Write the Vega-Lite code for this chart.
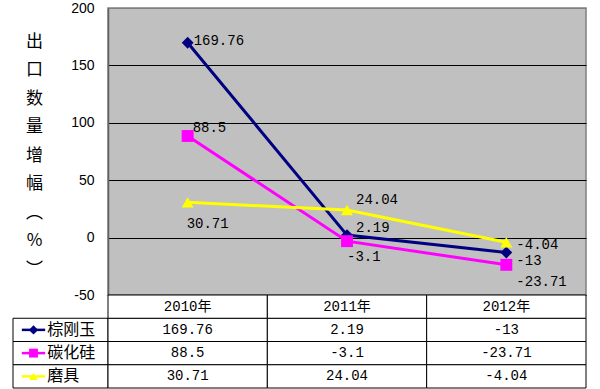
{
  "$schema": "https://vega.github.io/schema/vega-lite/v6.json",
  "padding": {"left": 12, "top": 0, "right": 0, "bottom": 0},
  "background": "white",
  "datasets": {
    "d": [
      {"series": "棕刚玉", "year": "2010年", "value": 169.76},
      {"series": "棕刚玉", "year": "2011年", "value": 2.19},
      {"series": "棕刚玉", "year": "2012年", "value": -13},
      {"series": "碳化硅", "year": "2010年", "value": 88.5},
      {"series": "碳化硅", "year": "2011年", "value": -3.1},
      {"series": "碳化硅", "year": "2012年", "value": -23.71},
      {"series": "磨具", "year": "2010年", "value": 30.71},
      {"series": "磨具", "year": "2011年", "value": 24.04},
      {"series": "磨具", "year": "2012年", "value": -4.04}
    ]
  },
  "config": {"view": {"stroke": null}},
  "columns": 2,
  "spacing": 0,
  "bounds": "flush",
  "resolve": {"scale": {"x": "independent", "y": "independent", "color": "independent", "shape": "independent", "size": "independent"}},
  "concat": [
    {
      "width": 95,
      "height": 287,
      "data": {"values": [{"a": 1}]},
      "mark": {"type": "point", "opacity": 0},
      "encoding": {}
    },
    {
      "width": 478,
      "height": 287,
      "view": {"fill": "#C0C0C0", "stroke": "#808080", "strokeWidth": 1.5},
      "data": {"name": "d"},
      "encoding": {
        "x": {"field": "year", "type": "nominal", "scale": {"type": "point", "domain": ["2010年", "2011年", "2012年"], "padding": 0.5}, "axis": null},
        "y": {
          "field": "value", "type": "quantitative",
          "scale": {"domain": [-50, 200], "nice": false, "zero": false},
          "axis": {
            "values": [-50, 0, 50, 100, 150, 200],
            "labelExpr": "'' + datum.value",
            "grid": true,
            "gridColor": {"condition": {"test": "datum.value == 200", "value": "#808080"}, "value": "#000000"},
            "gridOpacity": 1,
            "gridWidth": 1,
            "domainColor": "#606060",
            "domainWidth": 1.5,
            "ticks": false,
            "tickSize": 0,
            "labelPadding": 14,
            "labelFont": "Liberation Sans",
            "labelFontSize": 14,
            "labelColor": "#000000",
            "title": ["出", "口", "数", "量", "增", "幅", "︵", "%", "︶"],
            "titleAngle": 0,
            "titleFont": "Noto Sans CJK SC",
            "titleFontSize": 17,
            "titleFontWeight": "normal",
            "titleLineHeight": 28.5,
            "titleX": -74,
            "titleY": 25,
            "titleAlign": "center",
            "titleBaseline": "top",
            "titleColor": "#000000"
          }
        },
        "color": {"field": "series", "type": "nominal", "scale": {"domain": ["棕刚玉", "碳化硅", "磨具"], "range": ["#000080", "#FF00FF", "#FFFF00"]}, "legend": null}
      },
      "layer": [
        {"mark": {"type": "line", "strokeWidth": 3}},
        {
          "mark": {"type": "point", "filled": true, "opacity": 1},
          "encoding": {
            "shape": {"field": "series", "type": "nominal", "scale": {"domain": ["棕刚玉", "碳化硅", "磨具"], "range": ["diamond", "square", "triangle-up"]}, "legend": null},
            "size": {"field": "series", "type": "ordinal", "scale": {"domain": ["棕刚玉", "碳化硅", "磨具"], "range": [140, 144, 120]}, "legend": null}
          }
        },
        {"transform": [{"filter": "datum.series == '棕刚玉' && datum.year == '2010年'"}], "mark": {"type": "text", "align": "left", "dx": 6, "dy": -2, "font": "Liberation Mono", "fontSize": 14}, "encoding": {"text": {"field": "value", "type": "nominal"}, "color": {"value": "#000000"}}},
        {"transform": [{"filter": "datum.series == '碳化硅' && datum.year == '2010年'"}], "mark": {"type": "text", "align": "left", "dx": 5, "dy": -8, "font": "Liberation Mono", "fontSize": 14}, "encoding": {"text": {"field": "value", "type": "nominal"}, "color": {"value": "#000000"}}},
        {"transform": [{"filter": "datum.series == '磨具' && datum.year == '2010年'"}], "mark": {"type": "text", "align": "left", "dx": -1, "dy": 22, "font": "Liberation Mono", "fontSize": 14}, "encoding": {"text": {"field": "value", "type": "nominal"}, "color": {"value": "#000000"}}},
        {"transform": [{"filter": "datum.series == '磨具' && datum.year == '2011年'"}], "mark": {"type": "text", "align": "left", "dx": 9, "dy": -10, "font": "Liberation Mono", "fontSize": 14}, "encoding": {"text": {"field": "value", "type": "nominal"}, "color": {"value": "#000000"}}},
        {"transform": [{"filter": "datum.series == '棕刚玉' && datum.year == '2011年'"}], "mark": {"type": "text", "align": "left", "dx": 9, "dy": -7, "font": "Liberation Mono", "fontSize": 14}, "encoding": {"text": {"field": "value", "type": "nominal"}, "color": {"value": "#000000"}}},
        {"transform": [{"filter": "datum.series == '碳化硅' && datum.year == '2011年'"}], "mark": {"type": "text", "align": "left", "dx": 0, "dy": 16, "font": "Liberation Mono", "fontSize": 14}, "encoding": {"text": {"field": "value", "type": "nominal"}, "color": {"value": "#000000"}}},
        {"transform": [{"filter": "datum.series == '磨具' && datum.year == '2012年'"}], "mark": {"type": "text", "align": "left", "dx": 10, "dy": 3, "font": "Liberation Mono", "fontSize": 14}, "encoding": {"text": {"field": "value", "type": "nominal"}, "color": {"value": "#000000"}}},
        {"transform": [{"filter": "datum.series == '棕刚玉' && datum.year == '2012年'"}], "mark": {"type": "text", "align": "left", "dx": 10, "dy": 8, "font": "Liberation Mono", "fontSize": 14}, "encoding": {"text": {"field": "value", "type": "nominal"}, "color": {"value": "#000000"}}},
        {"transform": [{"filter": "datum.series == '碳化硅' && datum.year == '2012年'"}], "mark": {"type": "text", "align": "left", "dx": 10, "dy": 17, "font": "Liberation Mono", "fontSize": 14}, "encoding": {"text": {"field": "value", "type": "nominal"}, "color": {"value": "#000000"}}}
      ]
    },
    {
      "width": 95,
      "height": 93,
      "data": {"name": "d"},
      "transform": [{"filter": "datum.year == '2010年'"}],
      "encoding": {
        "y": {"field": "series", "type": "nominal", "scale": {"type": "band", "domain": ["h", "棕刚玉", "碳化硅", "磨具"], "paddingInner": 0, "paddingOuter": 0}, "axis": null}
      },
      "layer": [
        {"mark": {"type": "rect", "fill": "white", "stroke": "black", "strokeWidth": 1}},
        {
          "mark": {"type": "rule", "strokeWidth": 2.5},
          "encoding": {
            "x": {"datum": "s", "type": "nominal", "scale": {"type": "point", "domain": ["s", "m", "e"], "range": [3, 38]}, "axis": null},
            "x2": {"datum": "e"},
            "color": {"field": "series", "type": "nominal", "scale": {"domain": ["棕刚玉", "碳化硅", "磨具"], "range": ["#000080", "#FF00FF", "#FFFF00"]}, "legend": null}
          }
        },
        {
          "mark": {"type": "point", "filled": true, "opacity": 1},
          "encoding": {
            "x": {"datum": "m", "type": "nominal"},
            "color": {"field": "series", "type": "nominal", "scale": {"domain": ["棕刚玉", "碳化硅", "磨具"], "range": ["#000080", "#FF00FF", "#FFFF00"]}, "legend": null},
            "shape": {"field": "series", "type": "nominal", "scale": {"domain": ["棕刚玉", "碳化硅", "磨具"], "range": ["diamond", "square", "triangle-up"]}, "legend": null},
            "size": {"field": "series", "type": "ordinal", "scale": {"domain": ["棕刚玉", "碳化硅", "磨具"], "range": [85, 72, 80]}, "legend": null}
          }
        },
        {
          "mark": {"type": "text", "align": "left", "dx": 2, "font": "Noto Sans CJK SC", "fontSize": 16, "color": "#000000"},
          "encoding": {
            "x": {"datum": "e", "type": "nominal"},
            "text": {"field": "series", "type": "nominal"}
          }
        }
      ]
    },
    {
      "width": 478,
      "height": 93,
      "data": {"name": "d"},
      "encoding": {
        "x": {"field": "year", "type": "nominal", "scale": {"type": "band", "domain": ["2010年", "2011年", "2012年"], "paddingInner": 0, "paddingOuter": 0}, "axis": null},
        "y": {"field": "series", "type": "nominal", "scale": {"type": "band", "domain": ["h", "棕刚玉", "碳化硅", "磨具"], "paddingInner": 0, "paddingOuter": 0}, "axis": null}
      },
      "layer": [
        {"mark": {"type": "rect", "fill": "white", "stroke": "black", "strokeWidth": 1}},
        {"mark": {"type": "text", "font": "Liberation Mono", "fontSize": 14, "color": "#000000"}, "encoding": {"text": {"field": "value", "type": "nominal"}}},
        {"transform": [{"filter": "datum.series == '棕刚玉'"}], "mark": {"type": "rect", "fill": "white", "stroke": "black", "strokeWidth": 1}, "encoding": {"y": {"datum": "h", "type": "nominal"}}},
        {"transform": [{"filter": "datum.series == '棕刚玉'"}], "mark": {"type": "text", "font": "Liberation Mono, Noto Sans CJK SC", "fontSize": 14, "color": "#000000"}, "encoding": {"y": {"datum": "h", "type": "nominal"}, "text": {"field": "year", "type": "nominal"}}}
      ]
    }
  ]
}
